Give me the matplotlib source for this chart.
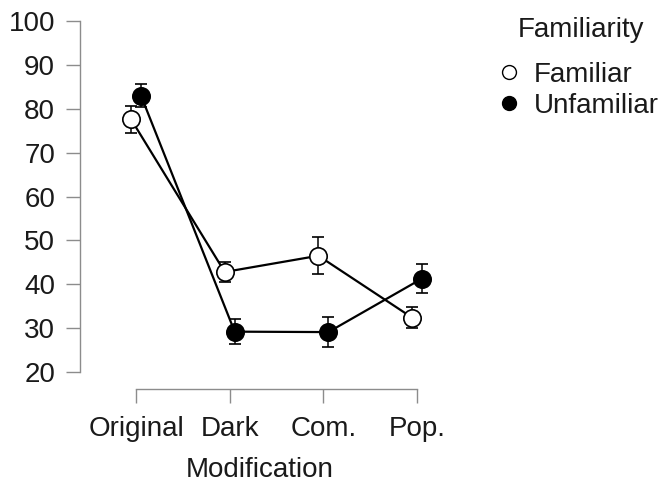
import matplotlib
matplotlib.use("Agg")
import matplotlib.pyplot as plt
import numpy as np

plt.rcParams['font.family'] = ['Liberation Sans', 'DejaVu Sans']

categories = ["Original", "Dark", "Com.", "Pop."]
familiar_mean = [77.6, 42.8, 46.5, 32.4]
familiar_err = [3.1, 2.3, 4.2, 2.4]
unfamiliar_mean = [83.0, 29.2, 29.1, 41.3]
unfamiliar_err = [2.7, 2.9, 3.4, 3.4]
yticks = [20, 30, 40, 50, 60, 70, 80, 90, 100]

fig = plt.figure(figsize=(6.6, 4.91), dpi=100)
ax = fig.add_axes([80/660, 102/491, 360/660, 368/491])

x = np.arange(len(categories))
dodge = 0.053
grey = '#8c8c8c'

ax.errorbar(x - dodge, familiar_mean, yerr=familiar_err, color='black', lw=1.6,
            marker='o', ms=12.5, mfc='white', mec='black', mew=1.2,
            ecolor='black', elinewidth=1.1, capsize=4.5, capthick=1.1,
            label='Familiar', clip_on=False, zorder=3)
ax.errorbar(x + dodge, unfamiliar_mean, yerr=unfamiliar_err, color='black', lw=1.6,
            marker='o', ms=12.5, mfc='black', mec='black', mew=1.2,
            ecolor='black', elinewidth=1.1, capsize=4.5, capthick=1.1,
            label='Unfamiliar', clip_on=False, zorder=4)

ax.set_xlim(-0.598, 3.245)
ax.set_ylim(16.13, 100)
ax.set_xticks(x)
ax.set_xticklabels(categories)
ax.set_yticks(yticks)
for s in ['top', 'right']:
    ax.spines[s].set_visible(False)
ax.spines['left'].set_bounds(20, 100)
ax.spines['bottom'].set_bounds(0, 3)
for s in ['left', 'bottom']:
    ax.spines[s].set_color(grey)
    ax.spines[s].set_linewidth(1.0)
ax.tick_params(axis='both', colors=grey, labelcolor='#1a1a1a', labelsize=20,
               length=10, width=1.0, pad=8)
ax.tick_params(axis='x', pad=9.5)
ax.set_xlabel('Modification', fontsize=20, color='#1a1a1a', labelpad=10.5)

handles = [
    plt.Line2D([], [], ls='none', marker='o', ms=10, mfc='white', mec='black', mew=1.0),
    plt.Line2D([], [], ls='none', marker='o', ms=10, mfc='black', mec='black', mew=1.0),
]
leg = fig.legend(handles, ['Familiar', 'Unfamiliar'],
                 loc='upper left', bbox_to_anchor=(492/660, 1 - 56/491),
                 frameon=False, fontsize=20,
                 handlelength=0.8, handletextpad=0.5, labelspacing=0.2,
                 borderaxespad=0, borderpad=0.2)
for t in leg.get_texts():
    t.set_color('#1a1a1a')
fig.text(581/660, 1 - 30/491, 'Familiarity', ha='center', va='center',
         fontsize=20, color='#1a1a1a')

fig.savefig('out.png', dpi=100)
